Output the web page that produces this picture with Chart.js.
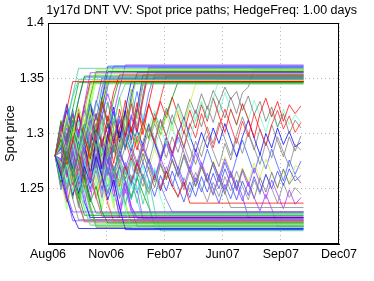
<!DOCTYPE html>
<html lang="en">
<head>
  <meta charset="UTF-8" />
  <title>DNT VV spot price paths</title>
  <script src="https://cdn.jsdelivr.net/npm/chart.js"></script>
  <style>
    body { margin: 0; background: #fff; }
    canvas { display: block; }
  </style>
</head>
<body>
<canvas id="chart" width="374" height="281"></canvas>

<script>
// x axis: days from the first fixing; tick labels sit at these day offsets
const tickLabels = ["Aug06", "Nov06", "Feb07", "Jun07", "Sep07", "Dec07"];
const tickDays = [-11, 78.5, 168, 257.5, 347, 436.5];
const yTicks = [1.2, 1.25, 1.3, 1.35, 1.4];
const stepDays = 9;      // one sample every 9 days
const endDay = 382;      // 1y17d
const fullLength = 43;

// paths that knock out early (last value = level where the path stopped)
const earlyPaths = [
  [1.28,1.301,1.322,1.347],
  [1.28,1.262,1.241,1.226,1.214],
  [1.28,1.295,1.276,1.305,1.331,1.352],
  [1.28,1.266,1.288,1.259,1.238,1.221],
  [1.28,1.307,1.289,1.318,1.296,1.327,1.355],
  [1.28,1.258,1.272,1.247,1.263,1.236,1.218],
  [1.28,1.292,1.316,1.298,1.324,1.309,1.338,1.358],
  [1.28,1.271,1.249,1.268,1.243,1.257,1.231,1.216],
  [1.28,1.299,1.281,1.262,1.284,1.303,1.327,1.312,1.341,1.36],
  [1.28,1.263,1.281,1.297,1.274,1.251,1.266,1.242,1.225],
  [1.28,1.289,1.31,1.333,1.349],
  [1.28,1.268,1.245,1.229],
  [1.28,1.302,1.284,1.306,1.293,1.318,1.301,1.325,1.343,1.357],
  [1.28,1.256,1.279,1.261,1.282,1.259,1.238,1.252,1.229,1.219],
  [1.28,1.294,1.271,1.293,1.318,1.296,1.277,1.301,1.329,1.311,1.338,1.353],
  [1.28,1.265,1.287,1.268,1.246,1.27,1.255,1.279,1.261,1.24,1.258,1.233,1.213],
  [1.28,1.311,1.293,1.322,1.346],
  [1.28,1.252,1.268,1.241,1.222],
  [1.28,1.286,1.305,1.283,1.266,1.291,1.312,1.293,1.317,1.336,1.318,1.341,1.362],
  [1.28,1.274,1.255,1.276,1.297,1.275,1.252,1.269,1.246,1.261,1.238,1.252,1.231,1.215],
  [1.28,1.297,1.278,1.256,1.278,1.3,1.321,1.303,1.328,1.348],
  [1.28,1.27,1.292,1.271,1.25,1.232,1.217],
  [1.28,1.305,1.327,1.306,1.33,1.351],
  [1.28,1.259,1.238,1.257,1.236,1.22],
  [1.28,1.288,1.267,1.29,1.312,1.288,1.309,1.287,1.306,1.329,1.308,1.332,1.345],
  [1.28,1.276,1.298,1.276,1.254,1.277,1.258,1.281,1.262,1.245,1.263,1.241,1.256,1.234,1.223],
  [1.28,1.3,1.279,1.302,1.281,1.304,1.326,1.353],
  [1.28,1.261,1.283,1.265,1.244,1.226],
  [1.28,1.274,1.296,1.318,1.301,1.325,1.347],
  [1.28,1.287,1.266,1.244,1.262,1.238,1.224],
  [1.28,1.262,1.285,1.307,1.284,1.309,1.333,1.356],
  [1.28,1.299,1.276,1.253,1.274,1.251,1.232,1.215],
  [1.28,1.271,1.294,1.272,1.297,1.321,1.302,1.327,1.35],
  [1.28,1.293,1.27,1.291,1.268,1.247,1.266,1.244,1.227],
  [1.28,1.304,1.283,1.261,1.284,1.308,1.331,1.354],
  [1.28,1.258,1.279,1.257,1.236,1.258,1.234,1.219],
  [1.28,1.277,1.3,1.279,1.303,1.282,1.306,1.33,1.313,1.343,1.361],
  [1.28,1.283,1.26,1.283,1.261,1.284,1.262,1.241,1.259,1.236,1.221],
  [1.28,1.29,1.312,1.335,1.359],
  [1.28,1.267,1.243,1.221],
  [1.28,1.296,1.274,1.297,1.32,1.298,1.322,1.348],
  [1.28,1.263,1.286,1.264,1.242,1.263,1.241,1.228]
];

// choppier paths that fill the dense band before knocking out
const midPaths = [
  [1.28,1.305,1.27,1.298,1.262,1.291,1.318,1.284,1.312,1.279,1.306,1.333,1.301,1.329,1.352],
  [1.28,1.256,1.289,1.261,1.294,1.266,1.24,1.271,1.246,1.277,1.25,1.226,1.255,1.232,1.216],
  [1.28,1.31,1.281,1.254,1.286,1.259,1.29,1.318,1.288,1.316,1.291,1.322,1.297,1.327,1.302,1.33,1.357],
  [1.28,1.25,1.279,1.305,1.276,1.249,1.276,1.302,1.273,1.246,1.271,1.243,1.268,1.24,1.263,1.236,1.258,1.231,1.212],
  [1.28,1.297,1.321,1.293,1.319,1.29,1.263,1.294,1.268,1.299,1.324,1.296,1.322,1.347],
  [1.28,1.263,1.236,1.265,1.29,1.261,1.287,1.258,1.232,1.26,1.236,1.219],
  [1.28,1.274,1.301,1.272,1.298,1.326,1.297,1.271,1.3,1.328,1.303,1.274,1.304,1.331,1.306,1.334,1.359],
  [1.28,1.291,1.263,1.29,1.262,1.236,1.263,1.289,1.262,1.288,1.259,1.232,1.258,1.234,1.224],
  [1.28,1.259,1.286,1.312,1.283,1.309,1.28,1.306,1.333,1.305,1.331,1.35],
  [1.28,1.302,1.273,1.246,1.272,1.298,1.27,1.243,1.268,1.241,1.218],
  [1.28,1.268,1.296,1.322,1.291,1.263,1.292,1.318,1.289,1.262,1.29,1.316,1.287,1.313,1.338,1.31,1.337,1.354],
  [1.28,1.285,1.257,1.283,1.309,1.28,1.254,1.281,1.253,1.279,1.305,1.277,1.25,1.276,1.248,1.271,1.245,1.269,1.242,1.227],
  [1.28,1.312,1.285,1.316,1.29,1.319,1.345],
  [1.28,1.249,1.276,1.247,1.271,1.244,1.222],
  [1.28,1.293,1.266,1.294,1.322,1.293,1.265,1.296,1.269,1.3,1.273,1.302,1.33,1.301,1.328,1.299,1.327,1.351],
  [1.28,1.27,1.297,1.268,1.241,1.27,1.296,1.266,1.292,1.263,1.29,1.261,1.235,1.262,1.237,1.263,1.236,1.214],
  [1.28,1.301,1.326,1.298,1.272,1.3,1.327,1.301,1.33,1.356],
  [1.28,1.258,1.231,1.258,1.285,1.255,1.281,1.253,1.228],
  [1.28,1.288,1.314,1.286,1.259,1.287,1.26,1.289,1.316,1.288,1.261,1.29,1.318,1.291,1.32,1.346],
  [1.28,1.272,1.245,1.274,1.301,1.271,1.299,1.269,1.242,1.27,1.243,1.271,1.246,1.275,1.249,1.223],
  [1.28,1.296,1.268,1.241,1.27,1.298,1.325,1.296,1.324,1.349],
  [1.28,1.264,1.291,1.317,1.288,1.26,1.286,1.257,1.285,1.258,1.233,1.259,1.235,1.22],
  [1.28,1.307,1.279,1.305,1.277,1.303,1.33,1.302,1.333,1.361],
  [1.28,1.253,1.281,1.254,1.28,1.252,1.226],
  [1.28,1.283,1.31,1.281,1.254,1.283,1.311,1.283,1.257,1.287,1.314,1.285,1.312,1.34,1.313,1.343,1.358],
  [1.28,1.276,1.249,1.277,1.304,1.275,1.247,1.275,1.249,1.277,1.25,1.224,1.25,1.229],
  [1.28,1.3,1.272,1.299,1.271,1.3,1.326,1.297,1.323,1.348],
  [1.28,1.261,1.289,1.26,1.233,1.261,1.235,1.217],
  [1.28,1.29,1.262,1.291,1.318,1.29,1.317,1.289,1.263,1.292,1.32,1.292,1.321,1.294,1.322,1.353],
  [1.28,1.267,1.294,1.266,1.24,1.268,1.295,1.265,1.239,1.266,1.24,1.267,1.238,1.22]
];

// paths that knock out later in the life of the trade
const latePaths = [
  [1.28,1.268,1.285,1.271,1.255,1.274,1.26,1.279,1.264,1.283,1.268,1.252,1.27,1.256,1.274,1.259,1.245,1.263,1.249,1.266,1.252,1.243,1.256,1.237],
  [1.28,1.293,1.277,1.296,1.281,1.266,1.285,1.27,1.289,1.274,1.259,1.277,1.263,1.281,1.267,1.252,1.27,1.256,1.274,1.26,1.277,1.263,1.249,1.266,1.253,1.27,1.257,1.244,1.26,1.247,1.233],
  [1.28,1.271,1.29,1.275,1.259,1.278,1.264,1.282,1.267,1.252,1.27,1.256,1.274,1.26,1.246,1.263,1.25,1.267,1.253,1.24,1.229],
  [1.28,1.297,1.282,1.301,1.286,1.305,1.29,1.275,1.294,1.279,1.298,1.283,1.268,1.286,1.271,1.29,1.275,1.26,1.278,1.264,1.282,1.267,1.252,1.27,1.256,1.274,1.259,1.245,1.263,1.249,1.266,1.252,1.239,1.256,1.242,1.23,1.245,1.232,1.216],
  [1.28,1.266,1.284,1.269,1.288,1.273,1.292,1.277,1.262,1.28,1.266,1.284,1.27,1.255,1.273,1.259,1.277,1.263,1.248,1.266,1.252,1.27,1.256,1.242,1.26,1.247,1.264,1.25,1.237,1.254,1.241,1.258,1.243,1.224],
  [1.28,1.289,1.273,1.258,1.276,1.262,1.28,1.265,1.25,1.268,1.254,1.271,1.257,1.243,1.26,1.246,1.233,1.218],
  [1.28,1.269,1.254,1.272,1.288,1.273,1.258,1.276,1.261,1.247,1.265,1.25,1.236,1.254,1.24,1.221],
  [1.28,1.294,1.309,1.293,1.277,1.296,1.281,1.3,1.316,1.3,1.285,1.304,1.319,1.303,1.322,1.307,1.326,1.312,1.331,1.352],
  [1.28,1.27,1.288,1.273,1.292,1.277,1.261,1.28,1.296,1.281,1.3,1.285,1.304,1.289,1.274,1.293,1.309,1.294,1.313,1.298,1.317,1.302,1.287,1.306,1.321,1.306,1.325,1.31,1.329,1.314,1.333,1.318,1.337,1.342,1.358],
  [1.28,1.291,1.306,1.29,1.275,1.294,1.279,1.298,1.283,1.302,1.287,1.306,1.321,1.305,1.29,1.309,1.294,1.313,1.298,1.317,1.302,1.321,1.306,1.327,1.345],
  [1.28,1.268,1.287,1.302,1.286,1.305,1.29,1.275,1.293,1.278,1.297,1.313,1.297,1.282,1.301,1.286,1.305,1.321,1.305,1.29,1.309,1.325,1.309,1.294,1.313,1.329,1.313,1.332,1.349],
  [1.28,1.296,1.281,1.3,1.285,1.27,1.289,1.305,1.29,1.309,1.294,1.313,1.298,1.334,1.355],
  [1.28,1.265,1.283,1.299,1.284,1.303,1.288,1.273,1.291,1.307,1.292,1.311,1.296,1.315,1.3,1.335,1.36],
  [1.28,1.287,1.271,1.29,1.275,1.294,1.279,1.264,1.283,1.299,1.283,1.302,1.287,1.306,1.291,1.31,1.295,1.314,1.299,1.318,1.332,1.347],
  [1.28,1.266,1.251,1.269,1.255,1.273,1.258,1.244,1.262,1.248,1.266,1.251,1.237,1.213]
];

// paths that never touch a barrier
const survivingPaths = [
  [1.28,1.268,1.289,1.274,1.296,1.281,1.302,1.288,1.27,1.293,1.311,1.296,1.318,1.302,1.285,1.306,1.327,1.31,1.329,1.314,1.333,1.317,1.3,1.321,1.305,1.326,1.311,1.332,1.316,1.301,1.322,1.308,1.327,1.313,1.296,1.318,1.332,1.315,1.329,1.311,1.326,1.318,1.325],
  [1.28,1.292,1.275,1.258,1.279,1.264,1.286,1.27,1.291,1.307,1.289,1.311,1.294,1.275,1.298,1.284,1.305,1.291,1.312,1.297,1.281,1.303,1.288,1.309,1.296,1.318,1.302,1.287,1.306,1.322,1.307,1.291,1.311,1.297,1.318,1.303,1.289,1.308,1.321,1.304,1.316,1.301,1.31],
  [1.28,1.271,1.29,1.276,1.261,1.283,1.27,1.292,1.279,1.265,1.287,1.301,1.285,1.306,1.292,1.31,1.296,1.318,1.304,1.323,1.308,1.327,1.313,1.331,1.318,1.336,1.322,1.339,1.328,1.342,1.331,1.338,1.321,1.334,1.317,1.329,1.311,1.324,1.306,1.318,1.3,1.312,1.305],
  [1.28,1.295,1.281,1.266,1.287,1.302,1.286,1.271,1.292,1.277,1.262,1.284,1.298,1.281,1.266,1.288,1.273,1.294,1.279,1.297,1.283,1.268,1.289,1.274,1.293,1.279,1.298,1.284,1.27,1.291,1.276,1.296,1.282,1.301,1.287,1.272,1.292,1.278,1.297,1.283,1.27,1.29,1.285],
  [1.28,1.266,1.283,1.269,1.252,1.271,1.286,1.27,1.255,1.276,1.29,1.274,1.259,1.278,1.263,1.282,1.267,1.251,1.272,1.258,1.276,1.262,1.281,1.266,1.252,1.27,1.256,1.274,1.26,1.245,1.264,1.25,1.268,1.255,1.241,1.26,1.247,1.265,1.251,1.268,1.254,1.262,1.255],
  [1.28,1.299,1.283,1.302,1.287,1.269,1.29,1.306,1.291,1.273,1.294,1.279,1.298,1.284,1.303,1.289,1.308,1.292,1.277,1.296,1.282,1.3,1.315,1.298,1.283,1.301,1.287,1.305,1.291,1.309,1.294,1.279,1.297,1.312,1.296,1.281,1.3,1.287,1.305,1.29,1.302,1.288,1.292],
  [1.28,1.263,1.279,1.262,1.245,1.264,1.25,1.268,1.283,1.267,1.251,1.27,1.256,1.241,1.259,1.274,1.258,1.243,1.262,1.248,1.266,1.252,1.238,1.256,1.243,1.261,1.247,1.264,1.25,1.268,1.254,1.24,1.257,1.244,1.261,1.247,1.263,1.25,1.266,1.253,1.268,1.257,1.262],
  [1.28,1.296,1.311,1.295,1.316,1.301,1.321,1.306,1.325,1.31,1.294,1.313,1.298,1.317,1.302,1.286,1.305,1.291,1.275,1.293,1.279,1.297,1.283,1.268,1.286,1.272,1.256,1.274,1.26,1.277,1.263,1.248,1.266,1.252,1.269,1.255,1.241,1.258,1.245,1.232,1.249,1.236,1.242],
  [1.28,1.272,1.291,1.307,1.29,1.275,1.294,1.279,1.262,1.281,1.297,1.282,1.3,1.285,1.303,1.318,1.301,1.286,1.305,1.321,1.306,1.291,1.31,1.326,1.311,1.329,1.314,1.333,1.318,1.337,1.322,1.307,1.326,1.312,1.33,1.316,1.301,1.32,1.305,1.322,1.308,1.317,1.31],
  [1.28,1.288,1.271,1.29,1.276,1.295,1.281,1.265,1.283,1.27,1.288,1.274,1.259,1.277,1.263,1.282,1.268,1.286,1.272,1.258,1.276,1.262,1.28,1.266,1.252,1.27,1.257,1.275,1.261,1.279,1.265,1.251,1.269,1.256,1.273,1.26,1.277,1.264,1.25,1.267,1.255,1.271,1.268],
  [1.28,1.289,1.274,1.259,1.278,1.264,1.283,1.298,1.282,1.301,1.286,1.27,1.289,1.305,1.29,1.274,1.293,1.309,1.294,1.278,1.297,1.283,1.302,1.287,1.272,1.29,1.306,1.291,1.31,1.295,1.28,1.299,1.315,1.3,1.285,1.304,1.289,1.308,1.293,1.279,1.297,1.284,1.298],
  [1.28,1.27,1.254,1.272,1.258,1.276,1.292,1.277,1.261,1.279,1.265,1.284,1.269,1.253,1.271,1.287,1.273,1.258,1.276,1.291,1.276,1.261,1.279,1.264,1.282,1.268,1.286,1.271,1.256,1.274,1.26,1.278,1.294,1.279,1.264,1.282,1.268,1.286,1.271,1.257,1.276,1.263,1.275],
  [1.28,1.275,1.292,1.277,1.261,1.28,1.265,1.25,1.268,1.284,1.269,1.254,1.272,1.257,1.276,1.262,1.247,1.265,1.251,1.27,1.256,1.242,1.26,1.247,1.265,1.251,1.238,1.256,1.243,1.261,1.248,1.266,1.252,1.24,1.258,1.245,1.263,1.25,1.237,1.255,1.242,1.251,1.245]
];

const earlyColors = ["#ff0000", "#0000ff", "#00a000", "#808080", "#9933ff", "#66ffcc", "#ccee44", "#66cc33", "#3366ff", "#ff3366", "#33ccaa", "#8844ff", "#99ff66", "#008800"];
const midColors = ["#66cc33", "#9933ff", "#ff0000", "#33cc99", "#0000ff", "#99ff66", "#808080", "#aa44ff", "#00a000", "#ccee44", "#3366ff", "#66ffcc"];
const lateColors = ["#ff0000", "#808080", "#6666ff", "#9933ff", "#3355ff", "#00a000", "#33ddcc", "#ff2222", "#777777", "#ccee44", "#66ffcc", "#0000ff", "#9933ff", "#008800", "#99ff66"];
const survivingColors = ["#ff0000", "#ff2020", "#707070", "#808080", "#6a6a6a", "#0000ff", "#3344ff", "#9933ff", "#66ffcc", "#ccee44", "#7a7a7a", "#3355ff", "#888888"];

function makeDataset(vals, color) {
  const pts = vals.map((v, j) => ({ x: j * stepDays, y: v }));
  // a knocked-out path stays flat at its stopping level until expiry
  if (vals.length < fullLength) pts.push({ x: endDay, y: vals[vals.length - 1] });
  return {
    data: pts,
    borderColor: color,
    borderWidth: 0.75,
    pointRadius: 0,
    tension: 0,
    fill: false
  };
}

const datasets = []
  .concat(earlyPaths.map((p, i) => makeDataset(p, earlyColors[i % earlyColors.length])))
  .concat(midPaths.map((p, i) => makeDataset(p, midColors[i % midColors.length])))
  .concat(latePaths.map((p, i) => makeDataset(p, lateColors[i % lateColors.length])))
  .concat(survivingPaths.map((p, i) => makeDataset(p, survivingColors[i % survivingColors.length])));

// MATLAB style closed box around the axes
const boxPlugin = {
  id: "box",
  afterDraw(chart) {
    const { ctx, chartArea: a } = chart;
    ctx.save();
    ctx.strokeStyle = "#000";
    ctx.lineWidth = 1;
    ctx.strokeRect(Math.round(a.left) + 0.5, Math.round(a.top) + 0.5,
      Math.round(a.right - a.left) - 1, Math.round(a.bottom - a.top) - 1);
    ctx.restore();
  }
};

const font = { family: "'Liberation Sans', Arial, sans-serif", size: 12.5 };

new Chart(document.getElementById("chart").getContext("2d"), {
  type: "line",
  data: { datasets },
  options: {
    responsive: false,
    animation: false,
    devicePixelRatio: 1,
    parsing: false,
    normalized: true,
    layout: { padding: { left: 0, right: 17, top: 0, bottom: 0 } },
    plugins: {
      legend: { display: false },
      tooltip: { enabled: false },
      title: {
        display: true,
        align: "end",
        text: "1y17d DNT VV: Spot price paths; HedgeFreq: 1.00 days",
        color: "#000",
        font: { ...font, weight: "normal" },
        padding: { top: 3, bottom: 5 }
      }
    },
    scales: {
      x: {
        type: "linear",
        min: tickDays[0],
        max: tickDays[tickDays.length - 1],
        afterBuildTicks: s => { s.ticks = tickDays.map(v => ({ value: v })); },
        afterFit: s => { s.height = 37; },
        ticks: {
          color: "#000",
          font,
          padding: 3,
          maxRotation: 0,
          autoSkip: false,
          callback: (v, i) => tickLabels[i]
        },
        grid: { color: "#b8b8b8", lineWidth: 1, drawTicks: false },
        border: { color: "#000", width: 1, dash: [1, 3] }
      },
      y: {
        min: yTicks[0],
        max: yTicks[yTicks.length - 1],
        afterBuildTicks: s => { s.ticks = yTicks.map(v => ({ value: v })); },
        afterFit: s => { s.width = 48; },
        ticks: {
          color: "#000",
          font,
          padding: 4,
          callback: (v, i) => (i === 0 ? "" : String(yTicks[i]))
        },
        grid: { color: "#b8b8b8", lineWidth: 1, drawTicks: false },
        border: { color: "#000", width: 1, dash: [1, 3] },
        title: {
          display: true,
          text: "Spot price",
          color: "#000",
          font,
          padding: { top: 3, bottom: 0 }
        }
      },
      // empty right margin so the title can run past the plot box
      margin: {
        position: "right",
        min: yTicks[0],
        max: yTicks[yTicks.length - 1],
        afterFit: s => { s.width = 18; },
        ticks: { display: false },
        grid: { display: false },
        border: { display: false }
      }
    }
  },
  plugins: [boxPlugin]
});
</script>
</body>
</html>
